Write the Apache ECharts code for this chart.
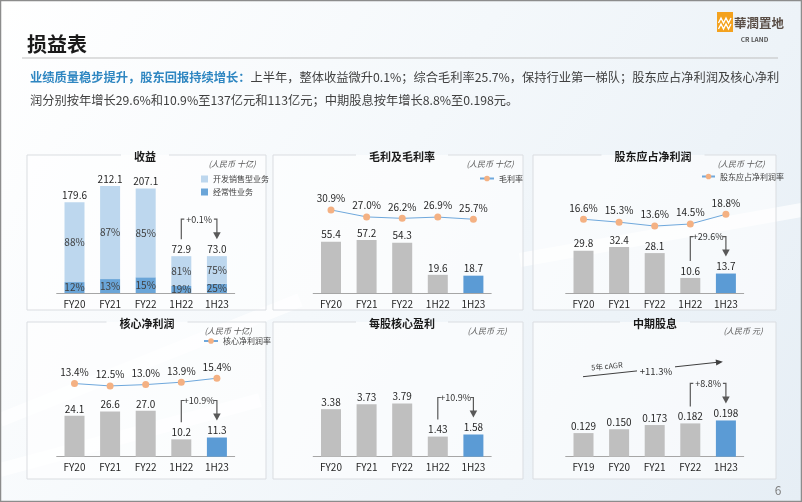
<!DOCTYPE html>
<html><head><meta charset="utf-8">
<script src="https://cdn.jsdelivr.net/npm/echarts@6/dist/echarts.min.js"></script>
<style>html,body{margin:0;padding:0;background:#fff}#c{width:802px;height:502px}</style>
</head><body><div id="c"></div>
<script>
// ---------- data ----------
const periods = ['FY20','FY21','FY22','1H22','1H23'];
const dividendPeriods = ['FY19','FY20','FY21','FY22','1H23'];
const revenueTotal = [179.6, 212.1, 207.1, 72.9, 73.0];
const devSharePct = [88, 87, 85, 81, 75];
const recurSharePct = [12, 13, 15, 19, 25];
const grossProfit = [55.4, 57.2, 54.3, 19.6, 18.7];
const grossMargin = [30.9, 27.0, 26.2, 26.9, 25.7];
const netProfit = [29.8, 32.4, 28.1, 10.6, 13.7];
const netMargin = [16.6, 15.3, 13.6, 14.5, 18.8];
const coreProfit = [24.1, 26.6, 27.0, 10.2, 11.3];
const coreMargin = [13.4, 12.5, 13.0, 13.9, 15.4];
const coreEps = [3.38, 3.73, 3.79, 1.43, 1.58];
const interimDiv = [0.129, 0.150, 0.173, 0.182, 0.198];
const growthLabels = ['+0.1%', '+29.6%', '+10.9%', '+10.9%', '+8.8%'];
const cagrLabel = '+11.3%';
const cagrCaption = '5年 cAGR';

// ---------- style ----------
const FONT = '"Noto Sans CJK SC", "Noto Sans", sans-serif';
const GRAY = '#BFBFBF', HILITE = '#5B9BD5', LIGHT = '#BDD7EE', DARK = '#6AA5D8';
const LINEC = '#6FA8DC', DOT = '#F4B183', TXT = '#262626';

const chart = echarts.init(document.getElementById('c'), null, {renderer: 'canvas'});

const devVals = revenueTotal.map((t, i) => +(t * devSharePct[i] / 100).toFixed(3));
const recVals = revenueTotal.map((t, i) => +(t * recurSharePct[i] / 100).toFixed(3));
const colored = arr => arr.map((v, i) => ({value: v, itemStyle: {color: i === arr.length - 1 ? HILITE : GRAY}}));

const gridW = 178, gridH = 123;
const grids = [
  {left: 56.7, top: 170, width: gridW, height: gridH},
  {left: 313.2, top: 170, width: gridW, height: gridH},
  {left: 565.7, top: 170, width: gridW, height: gridH},
  {left: 56.7, top: 333.7, width: gridW, height: gridH},
  {left: 313.2, top: 333.7, width: gridW, height: gridH},
  {left: 565.7, top: 333.7, width: gridW, height: gridH}
];
const xAxes = grids.map((g, i) => ({
  type: 'category', gridIndex: i, data: i === 5 ? dividendPeriods : periods,
  axisLine: {lineStyle: {color: '#A6A6A6', width: 1}}, axisTick: {show: false},
  axisLabel: {fontSize: 10, color: TXT, margin: 6, fontFamily: FONT}
}));
const hidden = (gi, min, max) => ({type: 'value', gridIndex: gi, min, max, show: false, splitLine: {show: false}});
const yAxes = [
  hidden(0, 0, 243.6),          // 0 revenue
  hidden(1, 0, 132.7),          // 1 gross profit
  hidden(1, -15.5, 53.2),       // 2 gross margin
  hidden(2, 0, 86.6),           // 3 net profit
  hidden(2, -15.9, 38.3),       // 4 net margin
  hidden(3, 0, 72.4),           // 5 core profit
  hidden(3, -14.2, 32.2),       // 6 core margin
  hidden(4, 0, 8.75),           // 7 eps
  hidden(5, 0, 0.672)           // 8 dividend
];
const valLabel = (fmt) => ({show: true, position: 'top', distance: 2, fontSize: 10, color: TXT, fontFamily: FONT, formatter: fmt});
const pctLabel = arr => ({show: true, position: 'inside', fontSize: 10, color: '#404040', fontFamily: FONT, formatter: p => arr[p.dataIndex] + '%'});
const barS = (name, xi, yi, data, fmt) => ({type: 'bar', name, xAxisIndex: xi, yAxisIndex: yi, data: colored(data), barWidth: 20, label: valLabel(fmt), silent: true});
const lineS = (name, xi, yi, data) => ({
  type: 'line', name, xAxisIndex: xi, yAxisIndex: yi, data, symbol: 'circle', symbolSize: 7,
  lineStyle: {color: LINEC, width: 1}, itemStyle: {color: DOT}, color: DOT,
  label: {show: true, position: 'top', distance: 3, fontSize: 10, color: TXT, fontFamily: FONT, formatter: p => p.value.toFixed(1) + '%'},
  silent: true, z: 5
});

const series = [
  {type: 'bar', name: '经常性业务', xAxisIndex: 0, yAxisIndex: 0, stack: 'rev', data: recVals, barWidth: 20,
   itemStyle: {color: DARK}, label: pctLabel(recurSharePct), silent: true},
  {type: 'bar', name: '开发销售型业务', xAxisIndex: 0, yAxisIndex: 0, stack: 'rev', data: devVals, barWidth: 20,
   itemStyle: {color: LIGHT}, label: pctLabel(devSharePct), silent: true},
  {type: 'bar', name: '收益合计', xAxisIndex: 0, yAxisIndex: 0, data: revenueTotal, barWidth: 20, barGap: '-100%',
   itemStyle: {color: 'rgba(0,0,0,0)'}, label: valLabel(p => p.value.toFixed(1)), silent: true, z: 1},
  barS('毛利', 1, 1, grossProfit, p => p.value.toFixed(1)),
  lineS('毛利率', 1, 2, grossMargin),
  barS('股东应占净利润', 2, 3, netProfit, p => p.value.toFixed(1)),
  lineS('股东应占净利润率', 2, 4, netMargin),
  barS('核心净利润', 3, 5, coreProfit, p => p.value.toFixed(1)),
  lineS('核心净利润率', 3, 6, coreMargin),
  barS('每股核心盈利', 4, 7, coreEps, p => p.value.toFixed(2)),
  barS('中期股息', 5, 8, interimDiv, p => p.value.toFixed(3))
];

const legBase = {textStyle: {fontSize: 8, color: '#404040', fontFamily: FONT}, selectedMode: false, padding: 0};
const legends = [
  Object.assign({}, legBase, {data: ['开发销售型业务', '经常性业务'], orient: 'vertical', left: 201, top: 175, icon: 'rect', itemWidth: 7, itemHeight: 7, itemGap: 5}),
  Object.assign({}, legBase, {data: ['毛利率'], left: 479, top: 174.5, itemWidth: 14, itemHeight: 7}),
  Object.assign({}, legBase, {data: ['股东应占净利润率'], left: 701, top: 172.5, itemWidth: 13, itemHeight: 7}),
  Object.assign({}, legBase, {data: ['核心净利润率'], left: 203, top: 337, itemWidth: 14, itemHeight: 7})
];

chart.setOption({
  animation: false,
  textStyle: {fontFamily: FONT},
  grid: grids, xAxis: xAxes, yAxis: yAxes, series, legend: legends
});

// ---------- decorations ----------
const els = [];
const txt = (x, y, text, o) => els.push(Object.assign({type: 'text', z: 10, style: Object.assign({
  x, y, text, fill: TXT, fontFamily: FONT, fontSize: 10, align: 'center', verticalAlign: 'middle',
  textAlign: 'center', textVerticalAlign: 'middle'}, o || {})}));

els.push({type: 'rect', z: -1, shape: {x: 0, y: 0, width: 802, height: 502},
  style: {fill: new echarts.graphic.LinearGradient(0, 0, 1, 1, [
    {offset: 0, color: '#FFFFFF'}, {offset: 0.45, color: '#F4F8FB'}, {offset: 1, color: '#E6EEF5'}])}});
// soft diagonal streaks
[[0, 420, 300, 300], [520, 260, 802, 210], [0, 470, 260, 400]].forEach(s => els.push({type: 'line', z: -1,
  shape: {x1: s[0], y1: s[1], x2: s[2], y2: s[3]}, style: {stroke: 'rgba(255,255,255,0.7)', lineWidth: 14}}));

// header
txt(27, 44, '损益表', {fontSize: 20, fontWeight: 'bold', fill: '#1A1A1A', align: 'left', textAlign: 'left'});
els.push({type: 'line', z: 1, shape: {x1: 22, y1: 58, x2: 778, y2: 58}, style: {stroke: '#BFBFBF', lineWidth: 1}});
els.push({type: 'text', z: 10, style: {x: 30, y: 66, fontFamily: FONT,
  text: '{b|业绩质量稳步提升，股东回报持续增长：}{n|上半年，整体收益微升0.1%；综合毛利率25.7%，保持行业第一梯队；股东应占净利润及核心净利}\n{n|润分别按年增长29.6%和10.9%至137亿元和113亿元；中期股息按年增长8.8%至0.198元。}',
  rich: {b: {fontSize: 12.25, fontWeight: 'bold', fill: '#2E86C1', lineHeight: 23, fontFamily: FONT},
         n: {fontSize: 12.25, fill: '#404040', lineHeight: 23, fontFamily: FONT}}}});
// logo
els.push({type: 'rect', z: 10, shape: {x: 717, y: 12, width: 16, height: 20}, style: {fill: '#F4A21E'}});
[18, 24].forEach(y => els.push({type: 'polyline', z: 11, shape: {points: [[718.5, y + 5], [721, y], [723.5, y + 5], [726, y], [728.5, y + 5], [731, y]]},
  style: {stroke: '#FFFFFF', lineWidth: 1.3, fill: null}}));
txt(734, 23, '華潤置地', {fontSize: 12.5, fontWeight: 'bold', fill: '#5A4E46', align: 'left', textAlign: 'left', fontFamily: '"Noto Sans CJK TC", sans-serif'});
txt(754.5, 40, 'CR LAND', {fontSize: 6.5, fontWeight: 'bold', fill: '#555'});
txt(778, 490, '6', {fontSize: 12, fill: '#7F7F7F'});

// panels
const panels = [
  {x: 27, y: 155, w: 239, h: 155, title: '收益', tx: 145, unit: '(人民币 十亿)', ux: 232, uy: 163.5},
  {x: 273, y: 155, w: 250, h: 155, title: '毛利及毛利率', tx: 402, unit: '(人民币 十亿)', ux: 490, uy: 164},
  {x: 533, y: 155, w: 243, h: 155, title: '股东应占净利润', tx: 653, unit: '(人民币 十亿)', ux: 741, uy: 163.5},
  {x: 27, y: 322, w: 239, h: 157, title: '核心净利润', tx: 147, unit: '(人民币 十亿)', ux: 228, uy: 331},
  {x: 273, y: 322, w: 250, h: 157, title: '每股核心盈利', tx: 402, unit: '(人民币 元)', ux: 487, uy: 331},
  {x: 533, y: 322, w: 243, h: 157, title: '中期股息', tx: 655, unit: '(人民币 元)', ux: 743, uy: 331}
];
panels.forEach(p => {
  const half = p.title.length * 11 / 2 + 13;
  els.push({type: 'rect', z: 0, shape: {x: p.x, y: p.y, width: p.w, height: p.h}, style: {fill: 'rgba(255,255,255,0.6)'}});
  els.push({type: 'polyline', z: 1, shape: {points: [[p.tx - half, p.y], [p.x, p.y], [p.x, p.y + p.h], [p.x + p.w, p.y + p.h], [p.x + p.w, p.y], [p.tx + half, p.y]]},
    style: {stroke: '#DADDE1', lineWidth: 1, fill: null}});
  txt(p.tx, p.y + 1.5, p.title, {fontSize: 11, fontWeight: 'bold', fill: '#1A1A1A'});
  txt(p.ux, p.uy, p.unit, {fontSize: 8, fontStyle: 'italic', fill: '#595959'});
});

// growth brackets
const px = (xi, yi, c, v) => chart.convertToPixel({xAxisIndex: xi, yAxisIndex: yi}, [c, v]);
const brackets = [
  {xi: 0, yi: 0, vals: revenueTotal, a: 3, b: 4},
  {xi: 2, yi: 3, vals: netProfit, a: 3, b: 4},
  {xi: 3, yi: 5, vals: coreProfit, a: 3, b: 4},
  {xi: 4, yi: 7, vals: coreEps, a: 3, b: 4},
  {xi: 5, yi: 8, vals: interimDiv, a: 3, b: 4}
];
const AC = '#595959';
brackets.forEach((k, i) => {
  const p1 = px(k.xi, k.yi, k.a, k.vals[k.a]), p2 = px(k.xi, k.yi, k.b, k.vals[k.b]);
  const x1 = p1[0], x2 = p2[0];
  const yTop = Math.min(p1[1], p2[1]) - 37, yStart = p1[1] - 17, yTip = p2[1] - 17;
  els.push({type: 'polyline', z: 10, shape: {points: [[x1, yStart], [x1, yTop], [x1 + 3, yTop]]}, style: {stroke: AC, lineWidth: 1.2, fill: null}});
  els.push({type: 'polyline', z: 10, shape: {points: [[x2 - 3, yTop], [x2, yTop], [x2, yTip - 6]]}, style: {stroke: AC, lineWidth: 1.2, fill: null}});
  els.push({type: 'polygon', z: 10, shape: {points: [[x2 - 3.8, yTip - 7], [x2 + 3.8, yTip - 7], [x2, yTip]]}, style: {fill: AC}});
  txt((x1 + x2) / 2, yTop, growthLabels[i], {fontSize: 9, fill: '#333'});
});

// CAGR arrow in dividend panel
(function () {
  const s = px(5, 8, 0, 0), e = px(5, 8, 4, 0);
  const xs = s[0] - 0.5, xe = e[0] - 3, ys = s[1] - 80, ye = s[1] - 95;
  const yAt = x => ys + (ye - ys) * (x - xs) / (xe - xs);
  const gapL = xs + 54, gapR = xs + 92;
  els.push({type: 'line', z: 10, shape: {x1: xs, y1: ys, x2: gapL, y2: yAt(gapL)}, style: {stroke: '#404040', lineWidth: 1}});
  els.push({type: 'line', z: 10, shape: {x1: gapR, y1: yAt(gapR), x2: xe - 5, y2: yAt(xe - 5)}, style: {stroke: '#404040', lineWidth: 1}});
  const ang = Math.atan2(ye - ys, xe - xs), L = 7, W = 3;
  const bx = xe - L * Math.cos(ang), by = ye - L * Math.sin(ang);
  els.push({type: 'polygon', z: 10, shape: {points: [[xe, ye], [bx + W * Math.sin(ang), by - W * Math.cos(ang)], [bx - W * Math.sin(ang), by + W * Math.cos(ang)]]}, style: {fill: '#404040'}});
  txt((gapL + gapR) / 2, yAt((gapL + gapR) / 2) + 2.5, cagrLabel, {fontSize: 9.5, fill: '#333'});
  els.push({type: 'text', z: 10, x: xs + 24, y: ys - 10.5, rotation: 0.1, style: {x: 0, y: 0, text: cagrCaption, fontSize: 7.5, fill: '#404040', fontFamily: FONT,
    align: 'center', verticalAlign: 'middle', textAlign: 'center', textVerticalAlign: 'middle'}});
})();

// page frame
els.push({type: 'rect', z: 20, shape: {x: 0.5, y: 0.5, width: 801, height: 501}, style: {fill: null, stroke: '#8C8C8C', lineWidth: 1.5}});

chart.setOption({graphic: {elements: els}});
</script></body></html>
